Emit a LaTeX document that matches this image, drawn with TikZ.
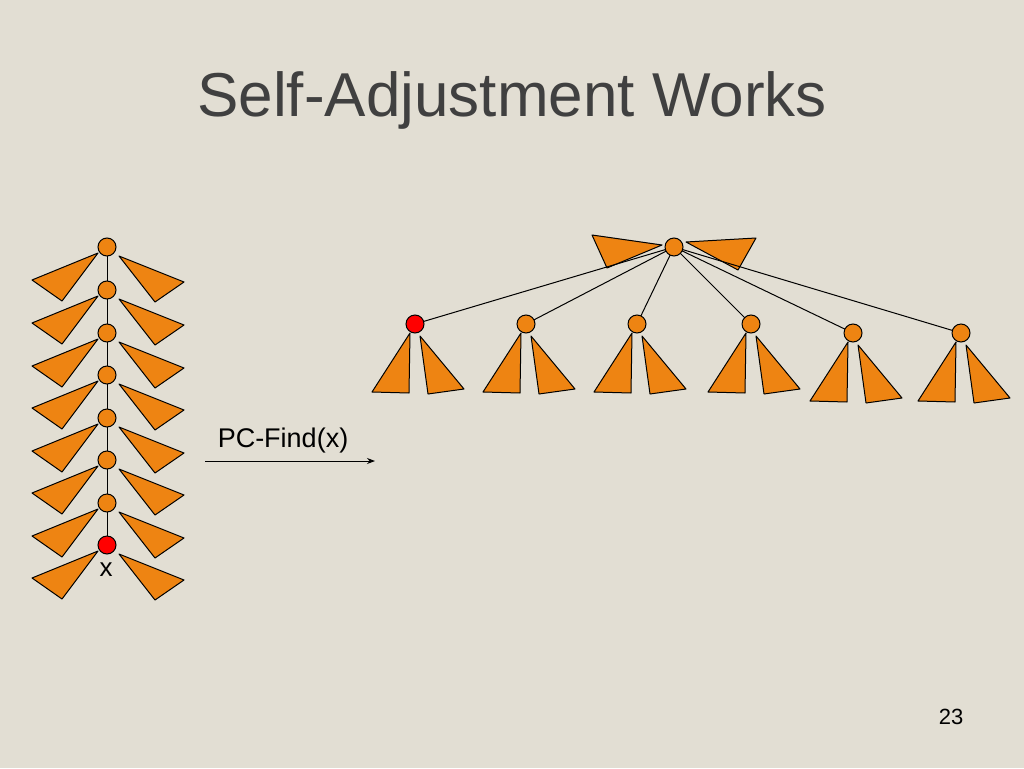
\documentclass[tikz,border=0pt]{standalone}
\usepackage{fontspec}
\setmainfont{Liberation Sans}
\definecolor{bg}{RGB}{226,222,211}
\definecolor{tri}{RGB}{238,132,18}
\usetikzlibrary{arrows.meta,calc}
\begin{document}
\begin{tikzpicture}[x=1pt,y=-1pt,
    vert/.style={circle,draw=black,fill=tri,line width=1pt,minimum size=18pt,inner sep=0pt},
    redvert/.style={vert,fill=red},
    subtree/.style={draw=black,fill=tri,line width=1pt,line join=round},
    link/.style={draw=black,line width=1pt}]
    \fill[bg] (0,0) rectangle (1024,768);
    \useasboundingbox (0,0) rectangle (1024,768);

    \node[font=\fontsize{62}{70}\selectfont,text=black!75] (title) at (512,100) {Self-Adjustment Works};

    % path before compression
    \foreach \i/\y in {1/247,2/290,3/333,4/375,5/418,6/460,7/503,8/545} {
        \coordinate (p\i) at (107,\y);
        \draw[subtree] ($(p\i)+(-9,6)$) -- ($(p\i)+(-75,33)$) -- ($(p\i)+(-45,54)$) -- cycle;
        \draw[subtree] ($(p\i)+(12,9)$) -- ($(p\i)+(77,35)$) -- ($(p\i)+(48,55)$) -- cycle;
    }
    \foreach \i [count=\j from 2] in {1,...,7}
        \draw[link] (p\i) -- (p\j);
    \foreach \i in {1,...,7}
        \node[vert] (a\i) at (p\i) {};
    \node[redvert] (a8) at (p8) {};
    \node[font=\fontsize{26}{30}\selectfont] (xlab) at (106,570) {x};

    % the find
    \coordinate (arrS) at (205,461);
    \coordinate (arrE) at (375,461);
    \draw[-{Stealth[length=8pt,width=6pt]},line width=1pt] (arrS) -- (arrE);
    \node[font=\fontsize{27}{32}\selectfont] (find) at (283,441) {PC-Find(x)};

    % after compression
    \coordinate (r) at (674,247);
    \draw[subtree] (592,235) -- (662,245) -- (607,268) -- cycle;
    \draw[subtree] (686,242) -- (756,238) -- (738,270) -- cycle;
    \foreach \i/\x/\y in {1/415/324,2/526/324,3/637/324,4/751/324,5/853/333,6/961/333} {
        \coordinate (c\i) at (\x,\y);
        \draw[subtree] ($(c\i)+(-5,9)$) -- ($(c\i)+(-43,68)$) -- ($(c\i)+(-6,69)$) -- cycle;
        \draw[subtree] ($(c\i)+(5,12)$) -- ($(c\i)+(49,65)$) -- ($(c\i)+(13,70)$) -- cycle;
        \draw[link] (r) -- (c\i);
    }
    \node[vert] (root) at (r) {};
    \node[redvert] (b1) at (c1) {};
    \foreach \i in {2,...,6}
        \node[vert] (b\i) at (c\i) {};

    \node[font=\fontsize{22}{26}\selectfont] (page) at (951,717) {23};
\end{tikzpicture}
\end{document}
